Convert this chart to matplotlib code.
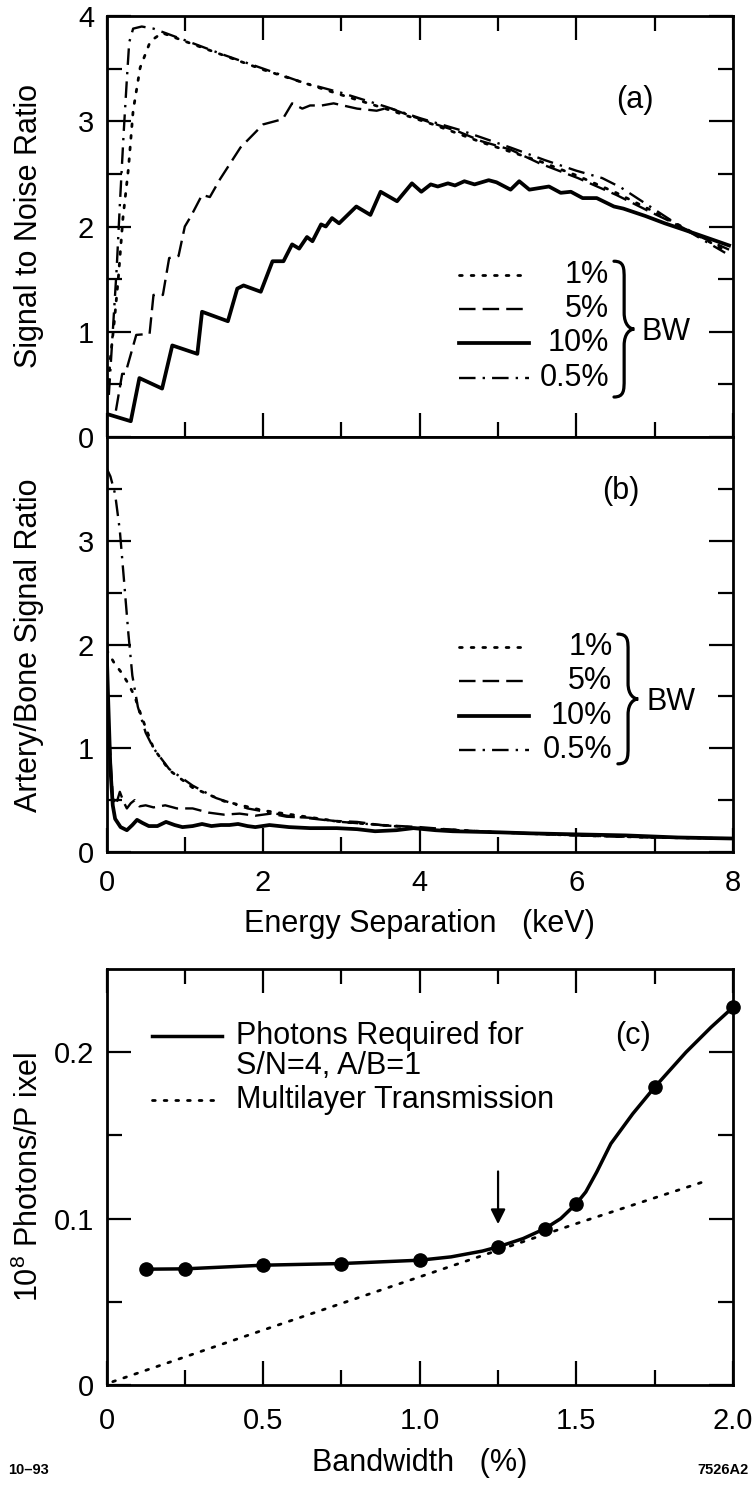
import numpy as np
import matplotlib
matplotlib.use("Agg")
import matplotlib.pyplot as plt
from matplotlib.path import Path
from matplotlib.patches import PathPatch

plt.rcParams["font.family"] = ["Liberation Sans", "DejaVu Sans"]
plt.rcParams["mathtext.fontset"] = "custom"
plt.rcParams["mathtext.rm"] = "Liberation Sans"

# ---- panel (a): signal to noise ratio vs energy separation (keV)
snr_10_x = [0, 0.31, 0.42, 0.71, 0.84, 1.16, 1.22, 1.55, 1.67, 1.75, 1.97, 2.12, 2.26, 2.37, 2.46,
            2.56, 2.63, 2.74, 2.80, 2.88, 2.97, 3.19, 3.37, 3.50, 3.71, 3.90, 4.02, 4.14, 4.23,
            4.36, 4.45, 4.57, 4.70, 4.88, 4.98, 5.16, 5.27, 5.40, 5.65, 5.80, 5.93, 6.08, 6.26,
            6.48, 6.60, 6.88, 7.13, 7.37, 7.68, 7.95]
snr_10_y = [0.22, 0.15, 0.56, 0.46, 0.87, 0.79, 1.19, 1.10, 1.41, 1.44, 1.38, 1.67, 1.67, 1.83, 1.79,
            1.90, 1.86, 2.02, 2.00, 2.08, 2.03, 2.19, 2.11, 2.33, 2.24, 2.41, 2.33, 2.40, 2.38,
            2.41, 2.39, 2.43, 2.40, 2.44, 2.42, 2.35, 2.43, 2.35, 2.38, 2.32, 2.33, 2.27, 2.27,
            2.19, 2.17, 2.10, 2.03, 1.97, 1.89, 1.82]

snr_5_x = [0.12, 0.20, 0.24, 0.38, 0.55, 0.60, 0.72, 0.80, 0.92, 1.00, 1.08, 1.22, 1.32, 1.45,
           1.71, 2.00, 2.25, 2.37, 2.50, 2.60, 2.75, 2.90, 3.20, 3.45, 3.60, 3.85, 4.17, 4.50,
           4.79, 5.16, 5.53, 6.02, 6.51, 6.94, 7.25, 7.62, 7.95]
snr_5_y = [0.25, 0.60, 0.60, 0.97, 0.98, 1.35, 1.35, 1.70, 1.72, 2.00, 2.10, 2.30, 2.28, 2.45,
           2.75, 2.97, 3.02, 3.17, 3.12, 3.15, 3.15, 3.17, 3.12, 3.10, 3.13, 3.06, 2.98, 2.90,
           2.81, 2.73, 2.60, 2.46, 2.30, 2.14, 2.03, 1.89, 1.78]

snr_1_x = [0.0, 0.05, 0.10, 0.15, 0.21, 0.28, 0.34, 0.43, 0.56, 0.71, 1.00, 2.00, 3.00, 3.56,
           4.17, 4.79, 5.53, 6.02, 6.51, 6.94, 7.37, 7.90]
snr_1_y = [0.30, 0.75, 1.10, 1.50, 2.08, 2.55, 3.10, 3.51, 3.76, 3.84, 3.76, 3.49, 3.25, 3.12,
           2.97, 2.80, 2.62, 2.48, 2.32, 2.16, 1.99, 1.77]

snr_05_x = [0.03, 0.08, 0.13, 0.17, 0.22, 0.26, 0.29, 0.34, 0.45, 0.60, 1.00, 1.50, 2.00, 2.50,
            3.00, 3.56, 4.00, 4.50, 5.16, 5.60, 6.00, 6.33, 6.57, 6.94, 7.37, 7.90]
snr_05_y = [0.40, 1.00, 1.60, 2.20, 2.90, 3.40, 3.75, 3.88, 3.90, 3.88, 3.77, 3.63, 3.50, 3.37,
            3.27, 3.14, 3.03, 2.92, 2.75, 2.63, 2.53, 2.46, 2.37, 2.19, 1.98, 1.75]

# ---- panel (b): artery / bone signal ratio vs energy separation (keV)
ab_05_x = [0, 0.05, 0.11, 0.17, 0.22, 0.28, 0.33, 0.40, 0.50, 0.60, 0.80, 1.10, 1.40, 1.80,
           2.30, 3.00, 4.00, 5.00, 6.00, 7.00, 8.00]
ab_05_y = [3.70, 3.62, 3.45, 3.10, 2.65, 2.10, 1.70, 1.40, 1.15, 1.00, 0.80, 0.64, 0.52, 0.42,
           0.35, 0.29, 0.23, 0.19, 0.16, 0.14, 0.13]

ab_1_x = [0, 0.10, 0.20, 0.28, 0.36, 0.45, 0.60, 0.80, 1.10, 1.50, 2.00, 3.00, 4.00, 5.00,
          6.00, 7.00, 8.00]
ab_1_y = [1.95, 1.82, 1.72, 1.62, 1.50, 1.30, 1.00, 0.79, 0.62, 0.49, 0.40, 0.29, 0.23, 0.19,
          0.16, 0.14, 0.13]

ab_5_x = [0, 0.03, 0.08, 0.12, 0.17, 0.22, 0.26, 0.31, 0.36, 0.42, 0.50, 0.60, 0.75, 0.90,
          1.10, 1.30, 1.50, 1.70, 1.90, 2.10, 2.30, 2.60, 2.90, 3.20, 3.50, 4.00, 4.50, 5.00,
          5.50, 6.00, 7.00, 8.00]
ab_5_y = [2.00, 1.20, 0.52, 0.45, 0.58, 0.48, 0.42, 0.47, 0.50, 0.44, 0.45, 0.43, 0.45, 0.42,
          0.42, 0.38, 0.36, 0.37, 0.35, 0.37, 0.34, 0.33, 0.30, 0.29, 0.26, 0.24, 0.21, 0.19,
          0.18, 0.16, 0.14, 0.13]

ab_10_x = [0, 0.02, 0.05, 0.08, 0.11, 0.18, 0.26, 0.33, 0.39, 0.46, 0.54, 0.65, 0.76, 0.87,
           0.97, 1.10, 1.22, 1.34, 1.46, 1.57, 1.68, 1.80, 1.90, 2.08, 2.33, 2.60, 2.94, 3.20,
           3.43, 3.70, 3.92, 4.20, 4.42, 5.00, 5.40, 6.00, 6.63, 7.30, 8.00]
ab_10_y = [2.00, 1.50, 0.80, 0.45, 0.32, 0.24, 0.21, 0.26, 0.31, 0.28, 0.25, 0.25, 0.29, 0.26,
           0.24, 0.25, 0.27, 0.25, 0.26, 0.26, 0.27, 0.25, 0.24, 0.26, 0.24, 0.23, 0.23, 0.22,
           0.20, 0.21, 0.23, 0.21, 0.20, 0.19, 0.18, 0.17, 0.16, 0.14, 0.13]

# ---- panel (c): photons per pixel (1e8) vs bandwidth (%)
bw_pts = [0.125, 0.25, 0.5, 0.75, 1.0, 1.25, 1.4, 1.5, 1.75, 2.0]
photons_pts = [0.0696, 0.0698, 0.072, 0.073, 0.075, 0.083, 0.094, 0.109, 0.179, 0.227]
# the drawn smooth curve, read along its path
bw_curve = [0.125, 0.25, 0.5, 0.75, 1.0, 1.1, 1.2, 1.25, 1.33, 1.4, 1.45, 1.5, 1.53, 1.565,
            1.61, 1.68, 1.75, 1.85, 1.93, 2.0]
photons_curve = [0.0696, 0.0698, 0.072, 0.073, 0.075, 0.077, 0.0805, 0.083, 0.088, 0.094,
                 0.100, 0.109, 0.116, 0.128, 0.145, 0.163, 0.179, 0.200, 0.215, 0.227]
bw_trans = [0.02, 0.5, 1.0, 1.5, 1.92]
trans = [0.002, 0.033, 0.065, 0.097, 0.123]

STYLES = {
    "1%": dict(ls=(0, (1, 3.2)), lw=2.0, dash_capstyle="round"),
    "5%": dict(ls=(0, (7, 3)), lw=1.7),
    "10%": dict(ls="-", lw=2.7),
    "0.5%": dict(ls=(0, (7, 3, 1, 3)), lw=1.7),
}
TICK_FS = 21
LABEL_FS = 22


def brace(ax, x0, y_top, y_bot, w, lw=2.3):
    # right-pointing curly brace drawn in data coordinates
    h = y_top - y_bot
    ym = (y_top + y_bot) / 2
    xm = x0 + 0.5 * w
    verts = [(x0, y_top),
             (xm, y_top), (xm, y_top - 0.05 * h), (xm, y_top - 0.13 * h),
             (xm, ym + 0.12 * h),
             (xm, ym + 0.03 * h), (x0 + 0.8 * w, ym), (x0 + w, ym),
             (x0 + 0.8 * w, ym), (xm, ym - 0.03 * h), (xm, ym - 0.12 * h),
             (xm, y_bot + 0.13 * h),
             (xm, y_bot + 0.05 * h), (xm, y_bot), (x0, y_bot)]
    codes = ([Path.MOVETO] + [Path.CURVE4] * 3 + [Path.LINETO] + [Path.CURVE4] * 6
             + [Path.LINETO] + [Path.CURVE4] * 3)
    ax.add_patch(PathPatch(Path(verts, codes), fill=False, lw=lw, color="k", capstyle="round"))


def style_axis(ax, xpad=9):
    ax.tick_params(which="both", direction="in", top=True, right=True, width=1.6,
                   labelsize=TICK_FS, pad=9)
    ax.tick_params(axis="x", which="both", pad=xpad)
    ax.tick_params(which="major", length=17)
    ax.tick_params(which="minor", length=11)
    for sp in ax.spines.values():
        sp.set_linewidth(2.0)


def bw_legend(ax, x0, x1, xt, ys, brace_x, brace_top, brace_bot, bw_xy):
    for key, y in zip(["1%", "5%", "10%", "0.5%"], ys):
        ax.plot([x0, x1], [y, y], color="k", **STYLES[key])
        ax.text(xt, y, key, ha="right", va="center", fontsize=LABEL_FS)
    brace(ax, brace_x, brace_top, brace_bot, 0.26)
    ax.text(bw_xy[0], bw_xy[1], "BW", ha="left", va="center", fontsize=LABEL_FS)


fig = plt.figure(figsize=(7.52, 14.86), dpi=100)
L, W = 106.5 / 752, 626.5 / 752
H = 1486.0
ax_a = fig.add_axes([L, 1 - 437 / H, W, 421 / H])
ax_b = fig.add_axes([L, 1 - 852 / H, W, 415 / H])
ax_c = fig.add_axes([L, 1 - 1385 / H, W, 416 / H])

# (a)
ax_a.plot(snr_1_x, snr_1_y, color="k", **STYLES["1%"])
ax_a.plot(snr_5_x, snr_5_y, color="k", **STYLES["5%"])
ax_a.plot(snr_10_x, snr_10_y, color="k", **STYLES["10%"])
ax_a.plot(snr_05_x, snr_05_y, color="k", **STYLES["0.5%"])
ax_a.set_xlim(0, 8); ax_a.set_ylim(0, 4)
ax_a.set_xticks([0, 2, 4, 6, 8]); ax_a.set_xticks(np.arange(1, 8, 2), minor=True)
ax_a.set_yticks([0, 1, 2, 3, 4]); ax_a.set_yticks(np.arange(0.5, 4, 1), minor=True)
ax_a.set_xticklabels([])
style_axis(ax_a)
ax_a.text(6.75, 3.2, "(a)", ha="center", va="center", fontsize=LABEL_FS)
bw_legend(ax_a, 4.5, 5.4, 6.42, [1.54, 1.22, 0.89, 0.56], 6.48, 1.67, 0.38, (6.83, 1.0))

# (b)
ax_b.plot(ab_1_x, ab_1_y, color="k", **STYLES["1%"])
ax_b.plot(ab_5_x, ab_5_y, color="k", **STYLES["5%"])
ax_b.plot(ab_10_x, ab_10_y, color="k", **STYLES["10%"])
ax_b.plot(ab_05_x, ab_05_y, color="k", **STYLES["0.5%"])
ax_b.set_xlim(0, 8); ax_b.set_ylim(0, 4)
ax_b.set_xticks([0, 2, 4, 6, 8]); ax_b.set_xticks(np.arange(1, 8, 2), minor=True)
ax_b.set_yticks([0, 1, 2, 3]); ax_b.set_yticks(np.arange(0.5, 4, 1), minor=True)
style_axis(ax_b, xpad=12)
ax_b.tick_params(which="both", top=False)
ax_b.text(6.57, 3.48, "(b)", ha="center", va="center", fontsize=LABEL_FS)
bw_legend(ax_b, 4.5, 5.4, 6.46, [1.98, 1.65, 1.31, 0.98], 6.53, 2.10, 0.85, (6.89, 1.45))
ax_b.set_xlabel("Energy Separation   (keV)", fontsize=LABEL_FS, labelpad=9)

# (c)
ax_c.plot(bw_curve, photons_curve, color="k", lw=2.5)
ax_c.plot(bw_pts, photons_pts, "o", color="k", ms=9.5, clip_on=False)
ax_c.plot(bw_trans, trans, color="k", **STYLES["1%"])
ax_c.annotate("", xy=(1.25, 0.095), xytext=(1.25, 0.130),
              arrowprops=dict(arrowstyle="-|>", lw=1.6, color="k", mutation_scale=22))
ax_c.set_xlim(0, 2.0); ax_c.set_ylim(0, 0.25)
ax_c.set_xticks([0, 0.5, 1.0, 1.5, 2.0]); ax_c.set_xticks(np.arange(0.25, 2.0, 0.5), minor=True)
ax_c.set_xticklabels(["0", "0.5", "1.0", "1.5", "2.0"])
ax_c.set_yticks([0, 0.1, 0.2]); ax_c.set_yticks([0.05, 0.15], minor=True)
ax_c.set_yticklabels(["0", "0.1", "0.2"])
style_axis(ax_c, xpad=16)
ax_c.plot([0.146, 0.369], [0.21, 0.21], color="k", lw=2.5)
ax_c.text(0.415, 0.21, "Photons Required for", ha="left", va="center", fontsize=LABEL_FS)
ax_c.text(0.415, 0.192, "S/N=4, A/B=1", ha="left", va="center", fontsize=LABEL_FS)
ax_c.plot([0.146, 0.369], [0.171, 0.171], color="k", **STYLES["1%"])
ax_c.text(0.415, 0.171, "Multilayer Transmission", ha="left", va="center", fontsize=LABEL_FS)
ax_c.text(1.68, 0.21, "(c)", ha="center", va="center", fontsize=LABEL_FS)
ax_c.set_xlabel("Bandwidth   (%)", fontsize=LABEL_FS, labelpad=9)

# y labels, placed at a common x
fig.text(29 / 752, 1 - 226 / H, "Signal to Noise Ratio", rotation=90, ha="center", va="center",
         fontsize=LABEL_FS)
fig.text(29 / 752, 1 - 645 / H, "Artery/Bone Signal Ratio", rotation=90, ha="center", va="center",
         fontsize=LABEL_FS)
fig.text(29 / 752, 1 - 1177 / H, "10$^8$ Photons/P ixel", rotation=90, ha="center", va="center",
         fontsize=LABEL_FS)

fig.text(8 / 752, 1 - 1470 / H, "10\u201393", ha="left", va="center", fontsize=10.5, fontweight="bold")
fig.text(749 / 752, 1 - 1470 / H, "7526A2", ha="right", va="center", fontsize=10.5, fontweight="bold")

fig.savefig("out.png", dpi=100)
